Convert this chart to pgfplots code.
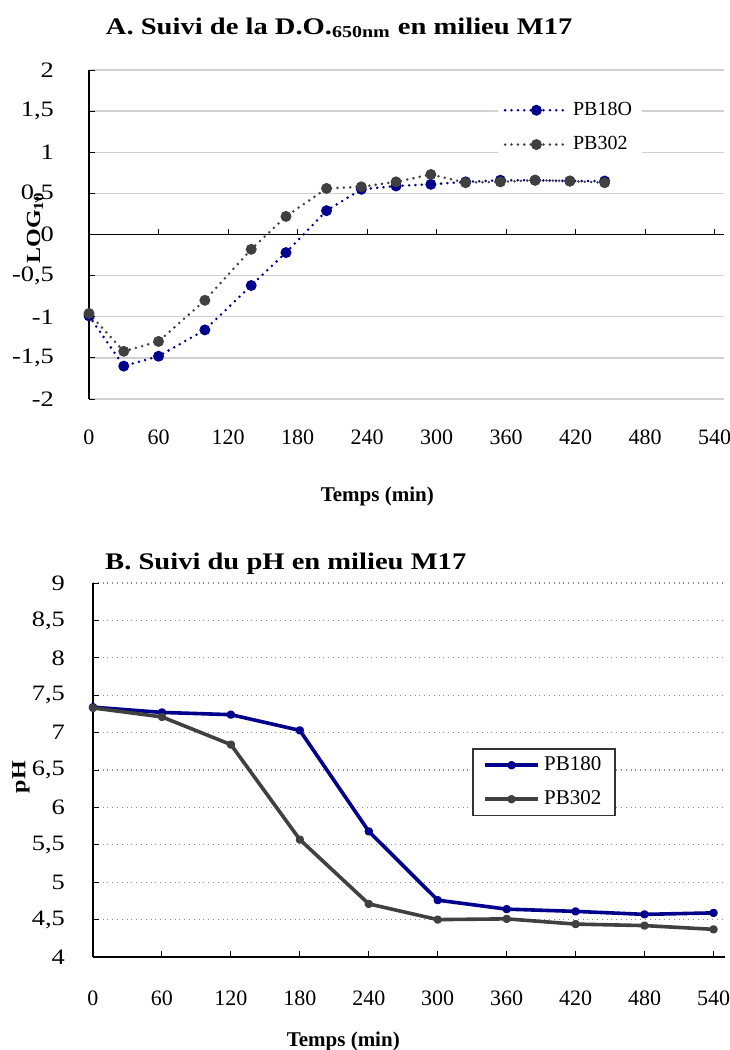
\documentclass[border=0pt]{standalone}
\usepackage{fontspec}
\setmainfont{Liberation Serif}
\newfontfamily\wide{Liberation Serif}[FakeStretch=1.2]
\usepackage{pgfplots}
\pgfplotsset{compat=1.18}

\definecolor{pbblue}{RGB}{0,0,140}
\definecolor{pbgray}{RGB}{64,64,64}

\begin{document}
\begin{tikzpicture}
\useasboundingbox (0,0) rectangle (364.5pt,-525pt);

% A. optical density
\begin{axis}[
  at={(44.5pt,-199.5pt)}, anchor=south west,
  scale only axis, width=317.5pt, height=164.5pt,
  xmin=0, xmax=548, ymin=-2, ymax=2,
  axis x line=middle, axis y line=left,
  hide obscured x ticks=false,
  axis line style={-, black, line width=0.6pt},
  xtick={0,60,...,540}, ytick={-2,-1.5,...,2},
  tick align=inside, major tick length=3pt,
  tick style={black, line width=0.5pt},
  ymajorgrids, grid style={black!18, line width=0.7pt},
  /pgf/number format/use comma,
  /pgf/number format/assume math mode=true,
  yticklabel style={font=\wide\fontsize{11}{12}\selectfont, xshift=-14pt},
  xticklabel style={font=\fontsize{11}{12}\selectfont, yshift=-94pt},
  title={A. Suivi de la D.O.\textsubscript{650nm} en milieu M17},
  title style={font=\wide\fontsize{11.9}{13}\selectfont\bfseries, at={(0.394,1)}, anchor=base, yshift=12pt},
  xlabel={Temps (min)},
  xlabel style={font=\fontsize{10.5}{12}\selectfont\bfseries, at={(axis description cs:0.454,0)}, anchor=center, yshift=-48.5pt},
  ylabel={LOG\textsubscript{10}},
  ylabel style={font=\wide\fontsize{10}{12}\selectfont\bfseries, at={(axis description cs:-0.085,0.52)}, anchor=center},
  legend style={at={(0.643,0.928)}, anchor=north west, draw=none, fill=white, font=\fontsize{10}{12}\selectfont, row sep=5pt},
  legend cell align=left,
  legend image code/.code={\draw[mark repeat=2,mark phase=2] plot coordinates {(0cm,0cm) (0.55cm,0cm) (1.1cm,0cm)};},
]
\addplot[pbblue, line width=1.4pt, dash pattern=on 0pt off 3.2pt, line cap=round,
  mark=*, mark size=2pt, mark options={solid, fill=pbblue}] coordinates {
  (0,-0.99) (30,-1.60) (60,-1.48) (100,-1.16) (140,-0.62) (170,-0.22)
  (205,0.29) (235,0.55) (265,0.59) (295,0.61) (325,0.64) (355,0.66)
  (385,0.66) (415,0.65) (445,0.65)
};
\addlegendentry{PB18O}
\addplot[pbgray, line width=1.4pt, dash pattern=on 0pt off 3.2pt, line cap=round,
  mark=*, mark size=2pt, mark options={solid, fill=pbgray}] coordinates {
  (0,-0.96) (30,-1.42) (60,-1.30) (100,-0.80) (140,-0.18) (170,0.22)
  (205,0.56) (235,0.58) (265,0.64) (295,0.73) (325,0.63) (355,0.64)
  (385,0.66) (415,0.65) (445,0.63)
};
\addlegendentry{PB302}
\end{axis}

% B. pH
\begin{axis}[
  at={(46.5pt,-478.5pt)}, anchor=south west,
  scale only axis, width=316pt, height=187pt,
  xmin=0, xmax=550, ymin=4, ymax=9,
  axis x line=bottom, axis y line=left,
  axis line style={-, black, line width=0.6pt},
  xtick={0,60,...,540}, ytick={4,4.5,...,9},
  tick align=inside, major tick length=3pt,
  tick style={black, line width=0.5pt},
  ymajorgrids, grid style={black!45, dotted, line width=0.6pt},
  /pgf/number format/use comma,
  /pgf/number format/assume math mode=true,
  yticklabel style={font=\wide\fontsize{11}{12}\selectfont, xshift=-10.5pt},
  xticklabel style={font=\fontsize{11}{12}\selectfont, yshift=-13.5pt},
  title={B. Suivi du pH en milieu M17},
  title style={font=\wide\fontsize{11.9}{13}\selectfont\bfseries, at={(0.305,1)}, anchor=base, yshift=1pt},
  xlabel={Temps (min)},
  xlabel style={font=\fontsize{10.5}{12}\selectfont\bfseries, at={(axis description cs:0.396,0)}, anchor=center, yshift=-42pt},
  ylabel={pH},
  ylabel style={font=\wide\fontsize{10}{12}\selectfont\bfseries, at={(axis description cs:-0.114,0.481)}, anchor=center},
  legend style={at={(0.600,0.559)}, anchor=north west, draw=black!80, line width=0.8pt, fill=white, font=\fontsize{10.5}{12}\selectfont, row sep=4.5pt, inner xsep=5pt},
  legend cell align=left,
  legend image code/.code={\draw[mark repeat=2,mark phase=2] plot coordinates {(0cm,0cm) (0.47cm,0cm) (0.94cm,0cm)};},
]
\addplot[pbblue, line width=1.8pt, line join=round, mark=*, mark size=1.2pt] coordinates {
  (0,7.34) (60,7.27) (120,7.24) (180,7.03) (240,5.68) (300,4.76)
  (360,4.64) (420,4.61) (480,4.57) (540,4.59)
};
\addlegendentry{PB180}
\addplot[pbgray, line width=1.8pt, line join=round, mark=*, mark size=1.2pt] coordinates {
  (0,7.33) (60,7.21) (120,6.84) (180,5.57) (240,4.71) (300,4.50)
  (360,4.51) (420,4.44) (480,4.42) (540,4.37)
};
\addlegendentry{PB302}
\end{axis}
\end{tikzpicture}
\end{document}
